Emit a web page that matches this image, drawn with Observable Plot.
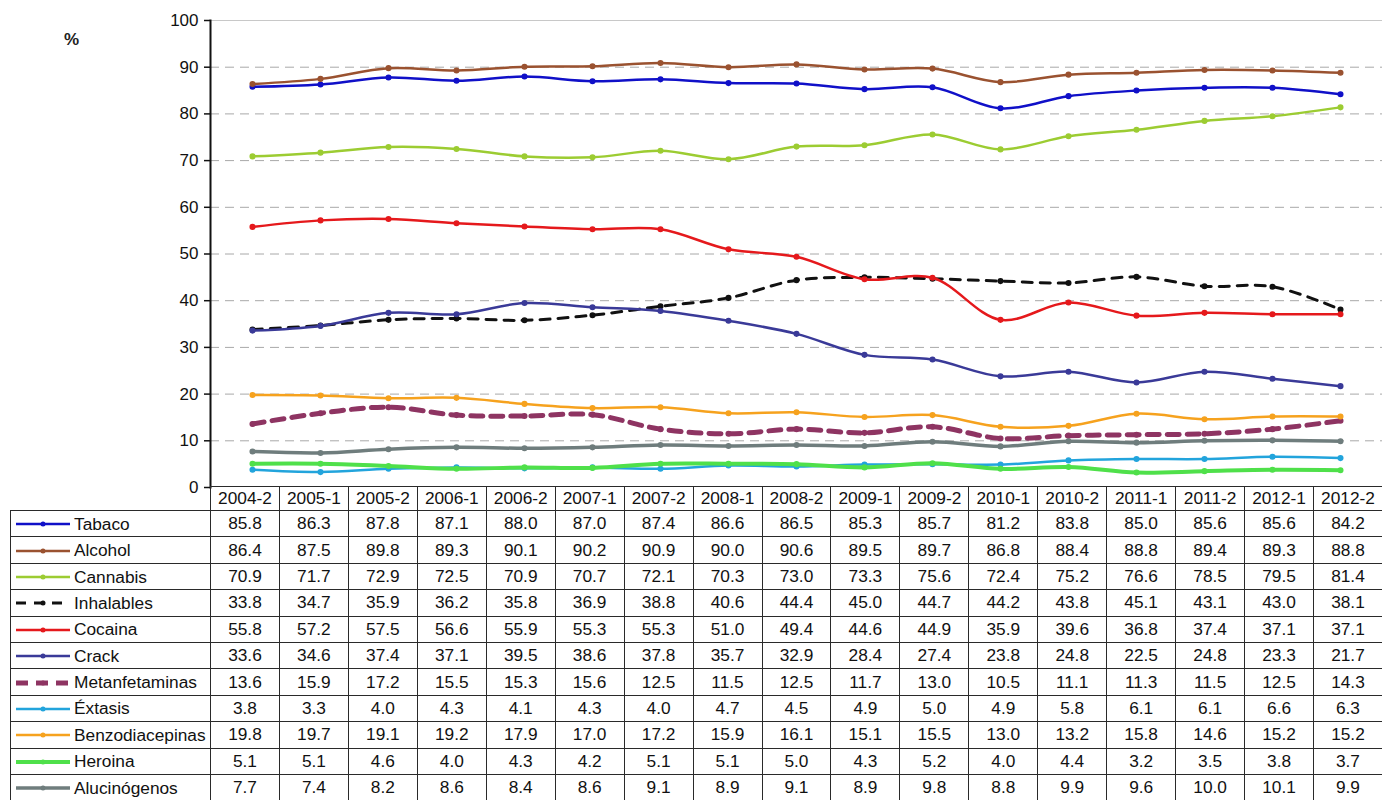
<!DOCTYPE html>
<html>
<head>
<meta charset="utf-8">
<script src="https://cdn.jsdelivr.net/npm/d3@7"></script>
<script src="https://cdn.jsdelivr.net/npm/@observablehq/plot@0.6"></script>
<style>
  body { margin: 0; background: #fff; font-family: "Liberation Sans", Arial, sans-serif; }
  #chart { position: relative; width: 1382px; height: 800px; overflow: hidden; background: #fff; }
  #chart svg.main { position: absolute; left: 0; top: 0; }
  #unit { position: absolute; left: 64px; top: 30px; font-size: 17px; font-weight: bold; color: #222; }
  table.data { position: absolute; left: 10px; border-collapse: collapse; table-layout: fixed;
    font-size: 17.3px; color: #111; }
  table.data td { border: 1.6px solid #2a2a2a; padding: 0; text-align: center; white-space: nowrap; overflow: hidden; }
  table.data tr.head td { height: 23px; }
  table.data tr.row td { height: 25.4px; }
  table.data td.lab { text-align: left; }
  table.data td.blank { border-left: none; border-top: none; }
  td.lab svg { vertical-align: middle; margin: 0 3px 0 4px; }
  td.lab span { vertical-align: middle; }
</style>
</head>
<body>
<div id="chart"></div>
<script>
// Survey periods (semester of each year)
const periods = ["2004-2","2005-1","2005-2","2006-1","2006-2","2007-1","2007-2","2008-1","2008-2",
                 "2009-1","2009-2","2010-1","2010-2","2011-1","2011-2","2012-1","2012-2"];

const seriesNames = ["Tabaco","Alcohol","Cannabis","Inhalables","Cocaina","Crack",
                     "Metanfetaminas","Éxtasis","Benzodiacepinas","Heroina","Alucinógenos"];

// Percentages per substance and period
const tabaco         = [85.8,86.3,87.8,87.1,88.0,87.0,87.4,86.6,86.5,85.3,85.7,81.2,83.8,85.0,85.6,85.6,84.2];
const alcohol        = [86.4,87.5,89.8,89.3,90.1,90.2,90.9,90.0,90.6,89.5,89.7,86.8,88.4,88.8,89.4,89.3,88.8];
const cannabis       = [70.9,71.7,72.9,72.5,70.9,70.7,72.1,70.3,73.0,73.3,75.6,72.4,75.2,76.6,78.5,79.5,81.4];
const inhalables     = [33.8,34.7,35.9,36.2,35.8,36.9,38.8,40.6,44.4,45.0,44.7,44.2,43.8,45.1,43.1,43.0,38.1];
const cocaina        = [55.8,57.2,57.5,56.6,55.9,55.3,55.3,51.0,49.4,44.6,44.9,35.9,39.6,36.8,37.4,37.1,37.1];
const crack          = [33.6,34.6,37.4,37.1,39.5,38.6,37.8,35.7,32.9,28.4,27.4,23.8,24.8,22.5,24.8,23.3,21.7];
const metanfetaminas = [13.6,15.9,17.2,15.5,15.3,15.6,12.5,11.5,12.5,11.7,13.0,10.5,11.1,11.3,11.5,12.5,14.3];
const extasis        = [3.8,3.3,4.0,4.3,4.1,4.3,4.0,4.7,4.5,4.9,5.0,4.9,5.8,6.1,6.1,6.6,6.3];
const benzodiacepinas= [19.8,19.7,19.1,19.2,17.9,17.0,17.2,15.9,16.1,15.1,15.5,13.0,13.2,15.8,14.6,15.2,15.2];
const heroina        = [5.1,5.1,4.6,4.0,4.3,4.2,5.1,5.1,5.0,4.3,5.2,4.0,4.4,3.2,3.5,3.8,3.7];
const alucinogenos   = [7.7,7.4,8.2,8.6,8.4,8.6,9.1,8.9,9.1,8.9,9.8,8.8,9.9,9.6,10.0,10.1,9.9];

const seriesValues = [tabaco, alcohol, cannabis, inhalables, cocaina, crack,
                      metanfetaminas, extasis, benzodiacepinas, heroina, alucinogenos];

const yTicks = [0,10,20,30,40,50,60,70,80,90,100];

// Line styles per substance
const styles = {
  "Tabaco":          {color: "#1010c8", width: 2.5},
  "Alcohol":         {color: "#9a5230", width: 2.5},
  "Cannabis":        {color: "#9ccc32", width: 2.5},
  "Inhalables":      {color: "#111111", width: 3,   dash: "10,8"},
  "Cocaina":         {color: "#e5191c", width: 2.5},
  "Crack":           {color: "#3a3a98", width: 2.5},
  "Metanfetaminas":  {color: "#8e3462", width: 5,   dash: "12,8"},
  "Éxtasis":         {color: "#22a4dc", width: 2.5},
  "Benzodiacepinas": {color: "#f6a21e", width: 2.5},
  "Heroina":         {color: "#4fe04a", width: 4},
  "Alucinógenos":    {color: "#6f7d7d", width: 3.5}
};

const rows = seriesNames.flatMap((name, k) =>
  periods.map((p, i) => ({series: name, period: p, value: seriesValues[k][i]})));

const lineMarks = seriesNames.flatMap(name => {
  const s = styles[name];
  const d = rows.filter(r => r.series === name);
  return [
    Plot.line(d, {x: "period", y: "value", stroke: s.color, strokeWidth: s.width,
                  strokeDasharray: s.dash, curve: "catmull-rom"}),
    Plot.dot(d, {x: "period", y: "value", r: 2.3, fill: s.color, stroke: s.color})
  ];
});

const plot = Plot.plot({
  width: 1382,
  height: 490,
  marginLeft: 210,
  marginRight: 0,
  marginTop: 20,
  marginBottom: 3,
  style: {fontFamily: "Liberation Sans, Arial, sans-serif", fontSize: "17px", color: "#111", overflow: "visible"},
  x: {type: "point", domain: periods, padding: 0.5, axis: null},
  y: {domain: [0, 100]},
  marks: [
    Plot.gridY(yTicks.filter(t => t > 0 && t < 100), {stroke: "#a8a8a8", strokeOpacity: 1, strokeDasharray: "9,6", strokeWidth: 1}),
    Plot.ruleY([100], {stroke: "#c8c8c8", strokeWidth: 1}),
    Plot.axisY(yTicks, {tickSize: 6, tickPadding: 6, label: null, stroke: "#111", strokeWidth: 1.5}),
    Plot.frame({anchor: "left", stroke: "#111", strokeWidth: 2}),
    ...lineMarks
  ]
});
plot.classList.add("main");

const chart = document.getElementById("chart");
chart.appendChild(plot);

const unit = document.createElement("div");
unit.id = "unit";
unit.textContent = "%";
chart.appendChild(unit);

// Data table aligned with the x scale columns
const xs = plot.scale("x");
const step = (xs.range[1] - xs.range[0]) / periods.length;
const labelWidth = xs.range[0] - 10;

const table = d3.select(chart).append("table").attr("class", "data")
  .style("top", (plot.scale("y").apply(0) - 1) + "px")
  .style("width", (labelWidth + step * periods.length) + "px");

const cg = table.append("colgroup");
cg.append("col").style("width", labelWidth + "px");
periods.forEach(() => cg.append("col").style("width", step + "px"));

const head = table.append("tr").attr("class", "head");
head.append("td").attr("class", "blank");
periods.forEach(p => head.append("td").text(p));

seriesNames.forEach((name, k) => {
  const s = styles[name];
  const tr = table.append("tr").attr("class", "row");
  const lab = tr.append("td").attr("class", "lab");
  const sw = lab.append("svg").attr("width", 56).attr("height", 12);
  sw.append("line").attr("x1", 1).attr("x2", 55).attr("y1", 6).attr("y2", 6)
    .attr("stroke", s.color).attr("stroke-width", Math.min(s.width, 5))
    .attr("stroke-dasharray", s.dash ? s.dash : null);
  sw.append("circle").attr("cx", 28).attr("cy", 6).attr("r", 2.5).attr("fill", s.color);
  lab.append("span").text(name);
  seriesValues[k].forEach(v => tr.append("td").text(v.toFixed(1)));
});
</script>
</body>
</html>
